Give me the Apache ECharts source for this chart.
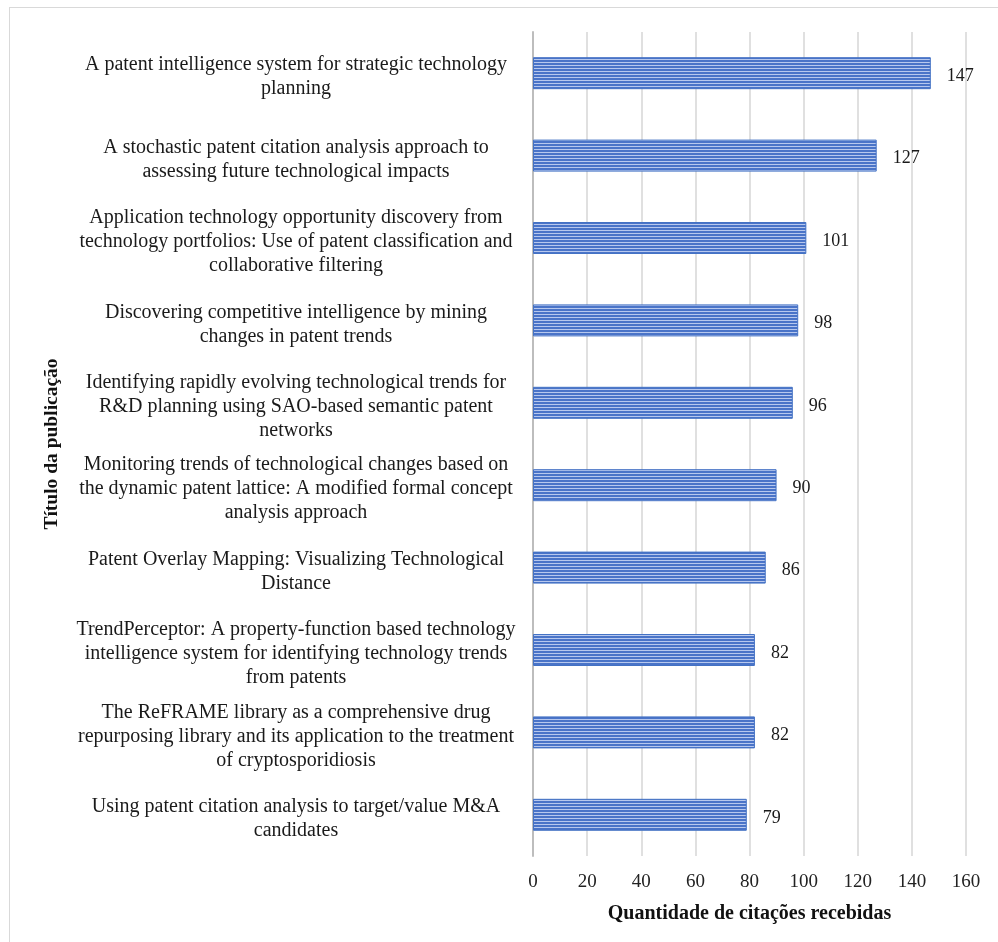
<!DOCTYPE html>
<html>
<head>
<meta charset="utf-8">
<script src="https://cdn.jsdelivr.net/npm/echarts@6/dist/echarts.min.js"></script>
<style>
  html, body { margin: 0; padding: 0; background: #fff; }
  #chart { width: 998px; height: 942px; }
  #frame { position: absolute; left: 9px; top: 7px; width: 1000px; height: 950px;
           border: 1.5px solid #d9d9d9; pointer-events: none; box-sizing: border-box; }
</style>
</head>
<body>
<div id="chart"></div>
<div id="frame"></div>
<script>
// Publication titles (top to bottom) and citations received
const titles = [
  "A patent intelligence system for strategic technology\nplanning",
  "A stochastic patent citation analysis approach to\nassessing future technological impacts",
  "Application technology opportunity discovery from\ntechnology portfolios: Use of patent classification and\ncollaborative filtering",
  "Discovering competitive intelligence by mining\nchanges in patent trends",
  "Identifying rapidly evolving technological trends for\nR&D planning using SAO-based semantic patent\nnetworks",
  "Monitoring trends of technological changes based on\nthe dynamic patent lattice: A modified formal concept\nanalysis approach",
  "Patent Overlay Mapping: Visualizing Technological\nDistance",
  "TrendPerceptor: A property-function based technology\nintelligence system for identifying technology trends\nfrom patents",
  "The ReFRAME library as a comprehensive drug\nrepurposing library and its application to the treatment\nof cryptosporidiosis",
  "Using patent citation analysis to target/value M&A\ncandidates"
];
const citations = [147, 127, 101, 98, 96, 90, 86, 82, 82, 79];
const xTicks = { min: 0, max: 160, step: 20 };

const serif = '"Liberation Serif", "Times New Roman", serif';

// Horizontal stripe fill for the bars
function stripePattern() {
  const c = document.createElement('canvas');
  c.width = 4; c.height = 3;
  const g = c.getContext('2d');
  g.fillStyle = '#4a74c8'; g.fillRect(0, 0, 4, 2);
  g.fillStyle = '#b7c8ee'; g.fillRect(0, 2, 4, 1);
  return c;
}

// Each title line centred; a thin spacer line on top nudges the block slightly down
function titleLabel(value) {
  return '{sp| }\n' + value.split('\n').map(l => '{t|' + l + '}').join('\n');
}

const chart = echarts.init(document.getElementById('chart'), null, { renderer: 'canvas' });
chart.setOption({
  backgroundColor: '#ffffff',
  animation: false,
  grid: { left: 533, right: 32, top: 32, bottom: 86, containLabel: false },
  xAxis: {
    type: 'value',
    min: xTicks.min, max: xTicks.max, interval: xTicks.step,
    name: 'Quantidade de citações recebidas',
    nameLocation: 'middle', nameGap: 48,
    nameTextStyle: { fontFamily: serif, fontSize: 20, fontWeight: 'bold', color: '#111' },
    axisLine: { show: false },
    axisTick: { show: false },
    axisLabel: { fontFamily: serif, fontSize: 19, color: '#222', margin: 17 },
    splitLine: { show: true, lineStyle: { color: '#d6d6d6', width: 1.5 } }
  },
  yAxis: {
    type: 'category',
    inverse: true,
    data: titles,
    name: 'Título da publicação',
    nameLocation: 'middle', nameGap: 471, nameRotate: 90,
    nameTextStyle: { fontFamily: serif, fontSize: 19.5, fontWeight: 'bold', color: '#111' },
    axisLine: { show: true, lineStyle: { color: '#bdbdbd', width: 2 } },
    axisTick: { show: false },
    axisLabel: {
      fontFamily: serif, fontSize: 20, lineHeight: 24, color: '#1a1a1a',
      align: 'center', margin: 237,
      formatter: titleLabel,
      rich: {
        sp: { fontSize: 1, lineHeight: 8, align: 'center' },
        t: { fontFamily: serif, fontSize: 20, lineHeight: 24, color: '#1a1a1a', align: 'center' }
      }
    }
  },
  series: [{
    type: 'bar',
    data: citations,
    barWidth: 32,
    itemStyle: {
      color: { image: stripePattern(), repeat: 'repeat' },
      borderColor: '#4472c4', borderWidth: 1
    },
    label: {
      show: true, position: 'right', distance: 16, offset: [0, 3],
      fontFamily: serif, fontSize: 18, color: '#1a1a1a'
    }
  }]
});
</script>
</body>
</html>
